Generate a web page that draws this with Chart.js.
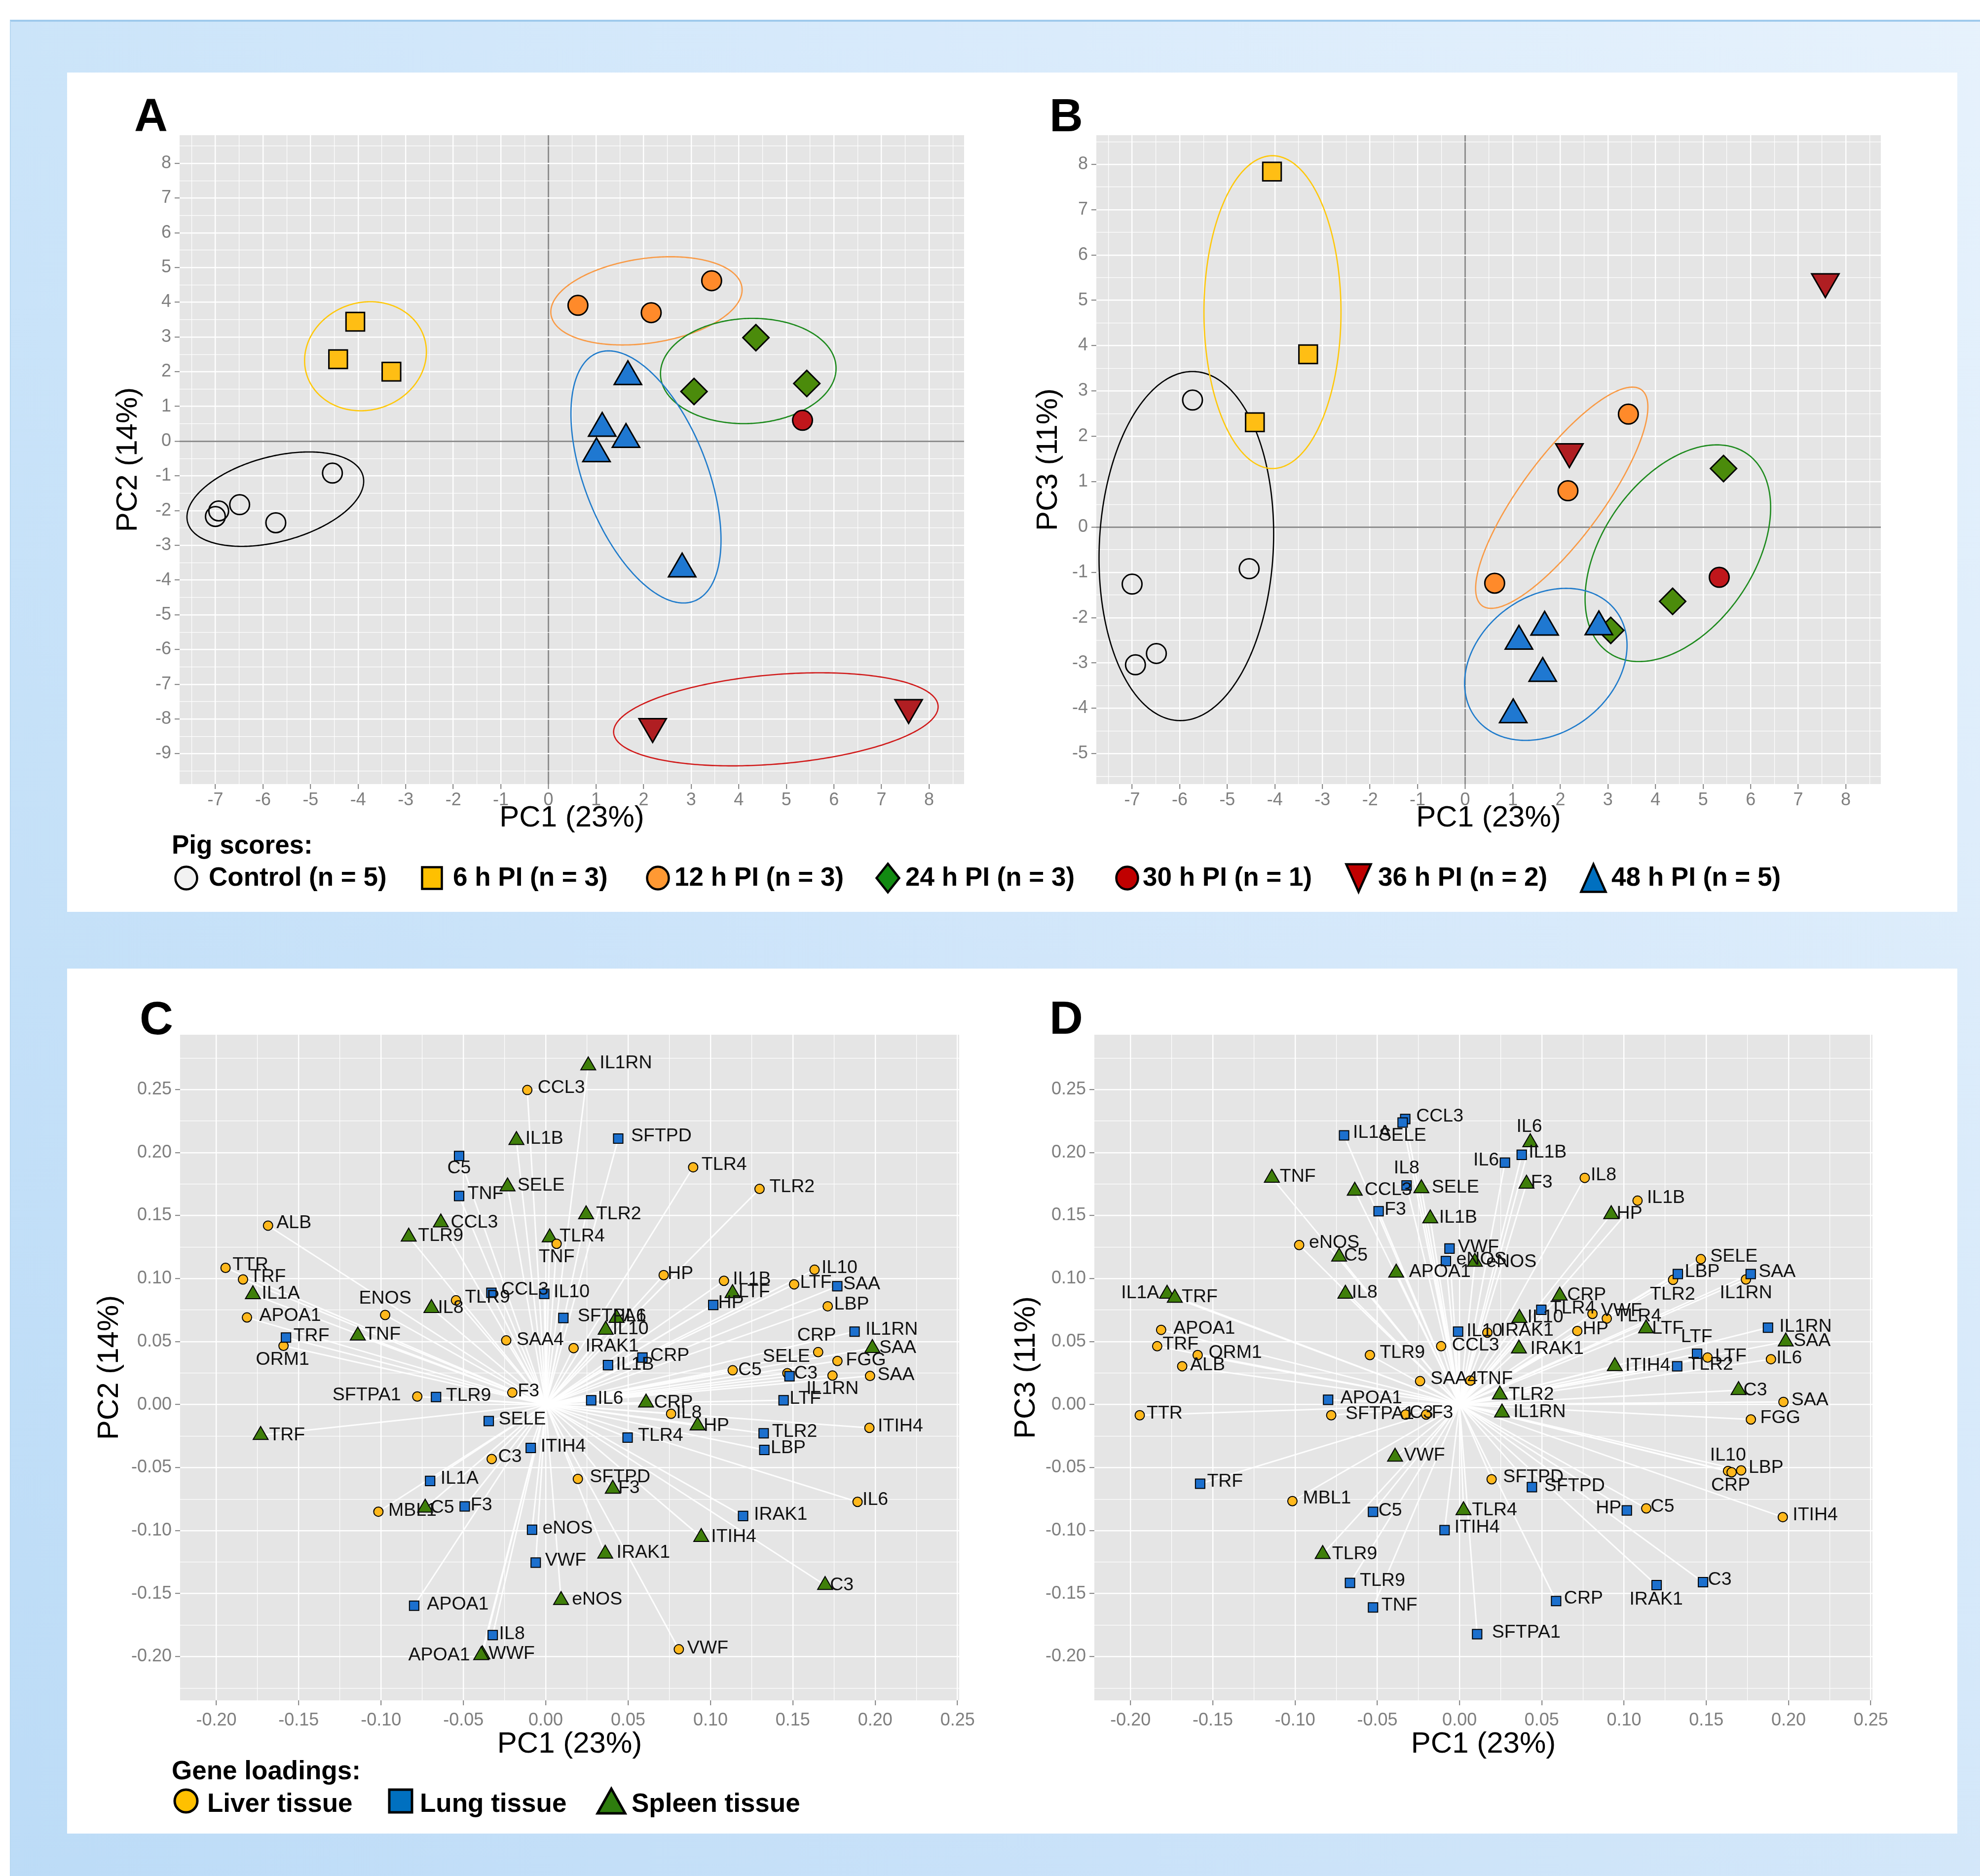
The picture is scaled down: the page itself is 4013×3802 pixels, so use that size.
<!DOCTYPE html>
<html>
<head>
<meta charset="utf-8">
<title>PCA of pig scores and gene loadings</title>
<script src="https://cdn.jsdelivr.net/npm/chart.js@4/dist/chart.umd.min.js"></script>
<style>
  html, body { margin:0; padding:0; }
  body { width:4013px; height:3802px; position:relative; overflow:hidden; background:#ffffff;
         font-family:"Liberation Sans", Arial, Helvetica, sans-serif; }
  #frame { position:absolute; left:20px; top:40px; width:4100px; height:3800px;
           background:
             linear-gradient(to bottom, rgba(255,255,255,0) 0%, rgba(110,175,235,0.16) 100%),
             linear-gradient(to right, #cbe4f9 0%, #d8eafb 45%, #e7f2fc 100%);
           border-top:4px solid #9fcaec; border-left:2px solid #b7d8f2; }
  .panel { position:absolute; left:136px; width:3831px; background:#ffffff; }
  .letter { position:absolute; font-weight:bold; font-size:94px; line-height:1; color:#000; }
  .legtitle, .legitem { position:absolute; font-weight:bold; font-size:53px; line-height:1; color:#000; white-space:nowrap; }
  svg.mk { position:absolute; overflow:visible; }
  canvas { position:absolute; }
</style>
</head>
<body>
<div id="frame"></div>
<div class="panel" style="top:147px;height:1701px"></div>
<div class="panel" style="top:1963px;height:1753px"></div>
<canvas id="cA" width="1914" height="1554" style="left:136px;top:146px;width:1914px;height:1554px"></canvas>
<canvas id="cB" width="1960" height="1554" style="left:2000px;top:146px;width:1960px;height:1554px"></canvas>
<canvas id="cC" width="1914" height="1630" style="left:136px;top:1963px;width:1914px;height:1630px"></canvas>
<canvas id="cD" width="1960" height="1630" style="left:2000px;top:1963px;width:1960px;height:1630px"></canvas>
<div class="letter" style="left:272px;top:187px">A</div>
<div class="letter" style="left:2127px;top:187px">B</div>
<div class="letter" style="left:283px;top:2017px">C</div>
<div class="letter" style="left:2127px;top:2016px">D</div>
<div class="legtitle" style="left:348px;top:1685px">Pig scores:</div>
<div class="legtitle" style="left:348px;top:3561px">Gene loadings:</div>
<script>
// ======================= DATA =======================
// ---- Pig scores (panels A and B) ----
const SCORE_GROUPS = ['Control (n = 5)', '6 h PI (n = 3)', '12 h PI (n = 3)', '24 h PI (n = 3)',
                      '30 h PI (n = 1)', '36 h PI (n = 2)', '48 h PI (n = 5)'];
const CONTROL_PC1 = [-4.54, -6.49, -5.73, -6.93, -7.00];
const CONTROL_PC2 = [-0.92, -1.83, -2.35, -2.01, -2.17];
const CONTROL_PC3 = [-0.92, -2.79, 2.80, -3.04, -1.26];
const H6_PC1  = [-4.06, -4.42, -3.30];
const H6_PC2  = [3.44, 2.36, 2.00];
const H6_PC3  = [7.84, 2.31, 3.81];
const H12_PC1 = [0.62, 2.16, 3.43];
const H12_PC2 = [3.91, 3.70, 4.62];
const H12_PC3 = [-1.24, 0.80, 2.49];
const H24_PC1 = [4.36, 3.06, 5.43];
const H24_PC2 = [2.98, 1.43, 1.66];
const H24_PC3 = [-1.64, -2.28, 1.29];
const H30_PC1 = [5.34];
const H30_PC2 = [0.60];
const H30_PC3 = [-1.11];
const H36_PC1 = [2.19, 7.57];
const H36_PC2 = [-8.22, -7.67];
const H36_PC3 = [1.66, 5.41];
const H48_PC1 = [1.67, 1.13, 1.63, 1.01, 2.81];
const H48_PC2 = [1.86, 0.37, 0.05, -0.36, -3.68];
const H48_PC3 = [-2.21, -2.52, -3.23, -4.14, -2.20];

// group ellipses: [centre PC1, centre PCy, half-width, half-height, tilt]
const ELLIPSES_PC2 = [[-5.74, -1.67, 1.857, 1.359, 0.38], [-3.845, 2.445, 1.28, 1.57, 0.08],
                      [2.06, 4.04, 2.01, 1.27, 0.25], [4.20, 2.02, 1.845, 1.515, 0.05], null,
                      [4.78, -8.01, 3.41, 1.34, 0.27], [2.05, -1.03, 1.577, 3.63, -0.50]];
const ELLIPSES_PC3 = [[-5.86, -0.42, 1.835, 3.85, 0.07], [-4.05, 4.74, 1.44, 3.45, 0.0],
                      [2.03, 0.646, 1.81, 2.44, 0.82], [4.47, -0.578, 1.95, 2.39, 0.42], null,
                      null, [1.695, -3.03, 1.707, 1.677, 0.25]];

const SCORE_X_TICKS   = [-7, -6, -5, -4, -3, -2, -1, 0, 1, 2, 3, 4, 5, 6, 7, 8];
const SCORE_PC2_TICKS = [-9, -8, -7, -6, -5, -4, -3, -2, -1, 0, 1, 2, 3, 4, 5, 6, 7, 8];
const SCORE_PC3_TICKS = [-5, -4, -3, -2, -1, 0, 1, 2, 3, 4, 5, 6, 7, 8];

// ---- Gene loadings (panels C and D) ----
const TISSUES = ['Liver tissue', 'Lung tissue', 'Spleen tissue'];
const LIVER_GENES = ['CCL3','TLR4','TLR2','ALB','TNF','TTR','TRF','IL10','HP','IL1B','LTF','TLR9','LBP','eNOS','APOA1',
                     'SAA4','ORM1','IRAK1','CRP','FGG','C5','SELE','IL1RN','SAA','F3','SFTPA1','IL8','ITIH4','C3',
                     'SFTPD','IL6','MBL1','VWF'];
const LIVER_PC1 = [-0.0112, 0.0895, 0.1298, -0.1686, 0.0066, -0.1944, -0.1838, 0.1632, 0.0716, 0.1082, 0.1508, -0.0545,
                   0.1712, -0.0975, -0.1814, -0.0240, -0.1592, 0.0169, 0.1654, 0.1771, 0.1135, 0.1467, 0.1741, 0.1969,
                   -0.0203, -0.0780, 0.0761, 0.1965, -0.0328, 0.0195, 0.1893, -0.1016, 0.0808];
const LIVER_PC2 = [0.2496, 0.1883, 0.1711, 0.1420, 0.1276, 0.1085, 0.0993, 0.1070, 0.1027, 0.0982, 0.0954, 0.0827,
                   0.0780, 0.0711, 0.0691, 0.0509, 0.0466, 0.0448, 0.0416, 0.0346, 0.0272, 0.0249, 0.0230, 0.0227,
                   0.0095, 0.0064, -0.0073, -0.0185, -0.0432, -0.0590, -0.0772, -0.0850, -0.1942];
const LIVER_PC3 = [0.0463, 0.0683, 0.0990, 0.0304, 0.0190, -0.0085, 0.0463, -0.0527, 0.0584, 0.1618, 0.0373, 0.0393,
                   -0.0522, 0.1266, 0.0593, 0.0186, 0.0393, 0.0571, -0.0537, -0.0118, -0.0824, 0.1154, 0.0993, 0.0021,
                   -0.0079, -0.0085, 0.1799, -0.0893, -0.0079, -0.0593, 0.0360, -0.0766, 0.0720];
const LUNG_GENES = ['SFTPD','C5','TNF','SAA','CCL3','IL10','HP','SFTPA1','IL1RN','TRF','CRP','IL1B','C3','IL6','LTF',
                    'TLR9','SELE','TLR2','TLR4','ITIH4','LBP','IL1A','F3','IRAK1','eNOS','VWF','APOA1','IL8'];
const LUNG_PC1 = [0.0440, -0.0526, -0.0526, 0.1770, -0.0330, -0.0009, 0.1017, 0.0107, 0.1875, -0.1577, 0.0587, 0.0378,
                  0.1480, 0.0276, 0.1444, -0.0666, -0.0346, 0.1323, 0.0497, -0.0091, 0.1327, -0.0702, -0.0492, 0.1198,
                  -0.0083, -0.0061, -0.0799, -0.0322];
const LUNG_PC2 = [0.2111, 0.1973, 0.1655, 0.0939, 0.0887, 0.0879, 0.0790, 0.0687, 0.0579, 0.0532, 0.0373, 0.0313,
                  0.0225, 0.0034, 0.0034, 0.0060, -0.0131, -0.0228, -0.0262, -0.0344, -0.0360, -0.0606, -0.0808, -0.0884,
                  -0.0993, -0.1254, -0.1596, -0.1829];
const LUNG_PC3 = [-0.0655, -0.0851, -0.1610, 0.1036, 0.2266, 0.0579, -0.0840, -0.1822, 0.0610, -0.0628, -0.1559, 0.1982,
                  -0.1409, 0.1920, 0.0403, -0.1415, 0.2238, 0.0304, 0.0752, -0.0996, 0.1036, 0.2136, 0.1534, -0.1433,
                  0.1139, 0.1238, 0.0038, 0.1739];
const SPLEEN_GENES = ['IL1RN','IL1B','SELE','TLR2','CCL3','TLR9','TLR4','LTF','IL1A','IL8','IL6','IL10','TNF','SAA',
                      'CRP','HP','TRF','F3','C5','ITIH4','IRAK1','C3','eNOS','APOA1','VWF'];
const SPLEEN_PC1 = [0.0258, -0.0178, -0.0232, 0.0245, -0.0637, -0.0832, 0.0024, 0.1134, -0.1778, -0.0694, 0.0430, 0.0364,
                    -0.1141, 0.1983, 0.0609, 0.0922, -0.1731, 0.0407, -0.0732, 0.0944, 0.0361, 0.1696, 0.0093, -0.0385,
                    -0.0392];
const SPLEEN_PC2 = [0.2690, 0.2098, 0.1730, 0.1509, 0.1444, 0.1332, 0.1326, 0.0883, 0.0874, 0.0765, 0.0687, 0.0593,
                    0.0547, 0.0448, 0.0015, -0.0167, -0.0242, -0.0669, -0.0819, -0.1052, -0.1184, -0.1433, -0.1552,
                    -0.1983, -0.1990];
const SPLEEN_PC3 = [-0.0064, 0.1476, 0.1715, 0.0079, 0.1696, -0.1187, -0.0840, 0.0603, 0.0878, 0.0878, 0.2080, 0.0687,
                    0.1799, 0.0500, 0.0864, 0.1510, 0.0846, 0.1752, 0.1173, 0.0304, 0.0444, 0.0114, 0.1132, 0.1046,
                    -0.0415];
const LOADING_TICKS = [-0.20, -0.15, -0.10, -0.05, 0.00, 0.05, 0.10, 0.15, 0.20, 0.25];

// gene names printed differently in panel C
const RENAME_C = { liver: { eNOS: 'ENOS' }, lung: {}, spleen: { VWF: 'WWF' } };

// ======================= STYLE / LAYOUT =======================
const FONT = '"Liberation Sans", Arial, Helvetica, sans-serif';
Chart.defaults.font.family = FONT;

const SCORE_STYLE = [
  { ps: 'circle',   r: 20,   fill: 'rgba(0,0,0,0)', rot: 0 },
  { ps: 'rect',     r: 26.5, fill: '#FFBE14', rot: 0 },
  { ps: 'circle',   r: 20,   fill: '#FF8A2A', rot: 0 },
  { ps: 'rectRot',  r: 26.5, fill: '#4B8B0B', rot: 0 },
  { ps: 'circle',   r: 20,   fill: '#C0161B', rot: 0 },
  { ps: 'triangle', r: 32,   fill: '#B01E22', rot: 180 },
  { ps: 'triangle', r: 32,   fill: '#1F78D1', rot: 0 }
];
const ELLIPSE_COLORS = ['#000000', '#FFC80A', '#F99A45', '#1D8A1D', null, '#D01A1A', '#1F7BCB'];

const TISSUE_STYLE = {
  liver:  { ps: 'circle',   r: 9.5,  fill: '#FFB81C', order: 1 },
  lung:   { ps: 'rect',     r: 13.5, fill: '#1C70CE', order: 0 },
  spleen: { ps: 'triangle', r: 17.5, fill: '#3F7F0A', order: 2 }
};

// label offsets (px) relative to the marker: [dx, dy, align]; default right of marker
const NUDGE_C = {
  liver: {CCL3:[21,-4], TLR4:[17,-5], TLR2:[20,-4], ALB:[17,-5], TNF:[0,27,'c'], TTR:[14,-6], TRF:[14,-5], IL10:[14,-4],
          HP:[8,-3], IL1B:[18,-3], LTF:[12,-3], TLR9:[18,-6], LBP:[13,-4], eNOS:[0,-33,'c'], APOA1:[25,-3], SAA4:[21,-1],
          ORM1:[-2,28,'c'], IRAK1:[24,-4], CRP:[-3,-34,'c'], FGG:[17,-2], C5:[11,0], SELE:[-2,-33,'c'], IL1RN:[0,27,'c'],
          SAA:[15,-2], F3:[11,-3], SFTPA1:[-33,-3,'r'], IL8:[10,-2], ITIH4:[17,-3], C3:[13,-4], SFTPD:[24,-4], IL6:[10,-4],
          MBL1:[20,-2], VWF:[17,-2]},
  lung: {SFTPD:[26,-5], C5:[0,25,'c'], TNF:[17,-4], SAA:[12,-4], CCL3:[20,-6], IL10:[19,-3], HP:[10,-4], SFTPA1:[29,-3],
         IL1RN:[22,-4], TRF:[15,-3], CRP:[16,-4], IL1B:[16,-1], C3:[9,-5], IL6:[13,-3], LTF:[12,-3], TLR9:[20,-3],
         SELE:[20,-3], TLR2:[17,-3], TLR4:[21,-4], ITIH4:[20,-3], LBP:[13,-4], IL1A:[21,-5], F3:[12,-2], IRAK1:[22,-3],
         eNOS:[21,-3], VWF:[19,-4], APOA1:[26,-3], IL8:[13,-2]},
  spleen: {IL1RN:[23,-5], IL1B:[18,-3], SELE:[20,-2], TLR2:[20,-1], CCL3:[20,0], TLR9:[19,-2], TLR4:[20,-2], LTF:[12,-2],
           IL1A:[18,-2], IL8:[13,-1], IL6:[8,-3], IL10:[14,-1], TNF:[14,-2], SAA:[14,-1], CRP:[16,0], HP:[12,0],
           TRF:[17,0], F3:[11,-2], C5:[11,0], ITIH4:[20,-1], IRAK1:[23,-2], C3:[10,0], eNOS:[22,-1], APOA1:[-25,2,'r'],
           VWF:[15,-3]}
};
const NUDGE_D = {
  liver: {IL8:[12,-5], IL1B:[19,-6], eNOS:[20,-5], SELE:[19,-5], TLR2:[-1,30,'c'], IL1RN:[0,28,'c'], VWF:[17,-6],
          TLR4:[19,-4], APOA1:[25,-2], HP:[11,-4], IRAK1:[26,-4], TRF:[11,-4], CCL3:[22,-2], ORM1:[22,-5], TLR9:[20,-5],
          LTF:[15,-3], IL6:[11,-2], ALB:[16,-2], SAA4:[21,-4], TNF:[13,-3], SAA:[16,-4], TTR:[14,-4], SFTPA1:[29,-3],
          C3:[8,-3], F3:[11,-3], FGG:[19,-3], IL10:[0,-32,'c'], CRP:[-2,27,'c'], LBP:[15,-5], SFTPD:[23,-4],
          MBL1:[21,-6], C5:[9,-3], ITIH4:[20,-4]},
  lung: {CCL3:[22,-5], SELE:[0,27,'c'], IL1A:[18,-5], IL1B:[14,-5], IL6:[-12,-5,'r'], IL8:[0,-35,'c'], F3:[12,-3],
         VWF:[17,-3], eNOS:[21,-3], LBP:[14,-4], SAA:[16,-4], TLR4:[18,-3], IL1RN:[23,-2], IL10:[17,-1], LTF:[-1,-34,'c'],
         TLR2:[22,-3], APOA1:[25,-3], TRF:[14,-4], C5:[11,-2], HP:[-11,-4,'r'], ITIH4:[20,-5], TLR9:[20,-4], C3:[10,-5],
         IRAK1:[-1,29,'c'], CRP:[16,-5], TNF:[17,-4], SFTPA1:[30,-3], SFTPD:[25,-2]},
  spleen: {IL6:[-2,-32,'c'], TNF:[16,-2], F3:[9,-2], SELE:[21,-2], CCL3:[20,-2], HP:[11,-1], IL1B:[18,-2], C5:[10,-2],
           eNOS:[23,0], APOA1:[26,-2], IL1A:[-16,-2,'r'], IL8:[13,-3], TRF:[14,-2], CRP:[15,-1], IL10:[16,-1],
           LTF:[12,0], SAA:[16,-1], IRAK1:[23,0], ITIH4:[21,-1], C3:[10,0], TLR2:[18,0], IL1RN:[23,-1], VWF:[18,-3],
           TLR4:[17,0], TLR9:[19,0]}
};

// ======================= PLUGINS =======================
const panelBg = {
  id: 'panelBg',
  beforeDraw(chart) {
    const { ctx, chartArea: a } = chart;
    ctx.save(); ctx.fillStyle = '#E5E5E5';
    ctx.fillRect(a.left, a.top, a.right - a.left, a.bottom - a.top); ctx.restore();
  }
};
const ellipsePlugin = {
  id: 'ellipses',
  beforeDatasetsDraw(chart, args, o) {
    if (!o || !o.items) return;
    const { ctx, scales: { x, y } } = chart;
    ctx.save(); ctx.lineWidth = 2.6;
    o.items.forEach((e, i) => {
      if (!e) return;
      const [cx, cy, W, H, r] = e; const q = Math.sqrt(1 - r * r);
      ctx.beginPath();
      for (let k = 0; k <= 360; k++) {
        const t = k * Math.PI / 180;
        const px = x.getPixelForValue(cx + W * Math.cos(t));
        const py = y.getPixelForValue(cy + H * (r * Math.cos(t) + q * Math.sin(t)));
        if (k === 0) ctx.moveTo(px, py); else ctx.lineTo(px, py);
      }
      ctx.closePath(); ctx.strokeStyle = o.colors[i]; ctx.stroke();
    });
    ctx.restore();
  }
};
const rayPlugin = {
  id: 'rays',
  beforeDatasetsDraw(chart, args, o) {
    if (!o || !o.enabled) return;
    const { ctx, scales: { x, y } } = chart;
    const ox = x.getPixelForValue(0), oy = y.getPixelForValue(0);
    ctx.save(); ctx.strokeStyle = 'rgba(255,255,255,0.92)'; ctx.lineWidth = 3;
    chart.data.datasets.forEach(ds => ds.data.forEach(p => {
      ctx.beginPath(); ctx.moveTo(ox, oy);
      ctx.lineTo(x.getPixelForValue(p.x), y.getPixelForValue(p.y)); ctx.stroke();
    }));
    ctx.restore();
  }
};
const labelPlugin = {
  id: 'geneLabels',
  afterDatasetsDraw(chart, args, o) {
    if (!o || !o.nudge) return;
    const { ctx, scales: { x, y } } = chart;
    ctx.save(); ctx.font = '37.5px ' + FONT; ctx.fillStyle = '#111111'; ctx.textBaseline = 'middle';
    chart.data.datasets.forEach(ds => ds.data.forEach(p => {
      const n = (o.nudge[ds.tissue] || {})[p.gene] || [16, -3];
      ctx.textAlign = n[2] === 'c' ? 'center' : (n[2] === 'r' ? 'right' : 'left');
      ctx.fillText(p.label, x.getPixelForValue(p.x) + n[0], y.getPixelForValue(p.y) + n[1]);
    }));
    ctx.restore();
  }
};

// ======================= AXES =======================
function gridTicks(majors, min, max) {
  const s = majors[1] - majors[0];
  const out = majors.map(v => ({ value: v, mj: true }));
  for (let i = 0; i < majors.length - 1; i++) out.push({ value: (majors[i] + majors[i + 1]) / 2, mj: false });
  if (majors[0] - s / 2 >= min) out.push({ value: majors[0] - s / 2, mj: false });
  const last = majors[majors.length - 1] + s / 2;
  if (last <= max) out.push({ value: last, mj: false });
  return out.sort((a, b) => a.value - b.value);
}
function axis(o) {
  const list = gridTicks(o.majors, o.min, o.max);
  const isZero = t => o.zero && t && t.mj && Math.abs(t.value) < 1e-9;
  return {
    type: 'linear', position: o.pos, min: o.min, max: o.max,
    afterBuildTicks: s => { s.ticks = list.map(t => ({ value: t.value, mj: t.mj })); },
    afterFit: s => { if (o.pos === 'left') s.width = o.size; else s.height = o.size; },
    ticks: { autoSkip: false, maxRotation: 0, minRotation: 0, padding: o.tickPad, color: '#7F7F7F',
             font: { family: FONT, size: 36 },
             callback: (v, i, arr) => (arr[i] && arr[i].mj) ? o.fmt(v) : '' },
    grid: { drawTicks: true, tickLength: 10, tickWidth: 2,
            color: c => isZero(c.tick) ? '#8E8E8E' : '#FFFFFF',
            lineWidth: c => !c.tick ? 0 : (isZero(c.tick) ? 3 : (c.tick.mj ? 2.4 : 1.2)),
            tickColor: c => (c.tick && c.tick.mj) ? '#7F7F7F' : 'rgba(0,0,0,0)' },
    border: { display: false },
    title: { display: true, text: o.title, color: '#000000', font: { family: FONT, size: 60 },
             padding: o.pos === 'left' ? { top: o.titlePad, bottom: 0 } : { top: 0, bottom: o.titlePad } }
  };
}
const fmtInt = v => String(Math.round(v));
const fmt2 = v => (Math.abs(v) < 1e-9 ? 0 : v).toFixed(2);

// ======================= CHARTS =======================
const GROUP_PC1 = [CONTROL_PC1, H6_PC1, H12_PC1, H24_PC1, H30_PC1, H36_PC1, H48_PC1];
const GROUP_PC2 = [CONTROL_PC2, H6_PC2, H12_PC2, H24_PC2, H30_PC2, H36_PC2, H48_PC2];
const GROUP_PC3 = [CONTROL_PC3, H6_PC3, H12_PC3, H24_PC3, H30_PC3, H36_PC3, H48_PC3];

function scoreChart(id, yVals, yTicks, yMin, yMax, yTitle, ellipses, L) {
  const datasets = SCORE_GROUPS.map((name, i) => ({
    label: name,
    data: GROUP_PC1[i].map((v, j) => ({ x: v, y: yVals[i][j] })),
    pointStyle: SCORE_STYLE[i].ps, pointRadius: SCORE_STYLE[i].r, pointRotation: SCORE_STYLE[i].rot,
    pointBackgroundColor: SCORE_STYLE[i].fill, pointBorderColor: '#000000', pointBorderWidth: 3,
    order: 10 - i
  }));
  return new Chart(document.getElementById(id), {
    type: 'scatter',
    data: { datasets },
    plugins: [panelBg, ellipsePlugin],
    options: {
      responsive: false, animation: false, devicePixelRatio: 1, events: [],
      layout: { padding: L.padding },
      plugins: { legend: { display: false }, tooltip: { enabled: false },
                 ellipses: { items: ellipses, colors: ELLIPSE_COLORS } },
      scales: {
        x: axis({ pos: 'bottom', majors: SCORE_X_TICKS, min: -7.752, max: 8.736, size: L.xH, tickPad: L.xTickPad,
                  fmt: fmtInt, title: 'PC1 (23%)', titlePad: L.xTitlePad, zero: true }),
        y: axis({ pos: 'left', majors: yTicks, min: yMin, max: yMax, size: L.yW, tickPad: 7,
                  fmt: fmtInt, title: yTitle, titlePad: L.yTitlePad, zero: true })
      }
    }
  });
}

function geneChart(id, yKey, yTitle, nudge, rename, L) {
  const T = [
    { key: 'liver',  genes: LIVER_GENES,  pc1: LIVER_PC1,  pc2: LIVER_PC2,  pc3: LIVER_PC3 },
    { key: 'lung',   genes: LUNG_GENES,   pc1: LUNG_PC1,   pc2: LUNG_PC2,   pc3: LUNG_PC3 },
    { key: 'spleen', genes: SPLEEN_GENES, pc1: SPLEEN_PC1, pc2: SPLEEN_PC2, pc3: SPLEEN_PC3 }
  ];
  const datasets = T.map((t, i) => {
    const st = TISSUE_STYLE[t.key];
    return {
      label: TISSUES[i], tissue: t.key,
      data: t.genes.map((g, j) => ({ x: t.pc1[j], y: t[yKey][j], gene: g,
                                     label: (rename[t.key] && rename[t.key][g]) || g })),
      pointStyle: st.ps, pointRadius: st.r, pointBackgroundColor: st.fill,
      pointBorderColor: '#000000', pointBorderWidth: 2, order: st.order
    };
  });
  return new Chart(document.getElementById(id), {
    type: 'scatter',
    data: { datasets },
    plugins: [panelBg, rayPlugin, labelPlugin],
    options: {
      responsive: false, animation: false, devicePixelRatio: 1, events: [],
      layout: { padding: L.padding },
      plugins: { legend: { display: false }, tooltip: { enabled: false },
                 rays: { enabled: true }, geneLabels: { nudge } },
      scales: {
        x: axis({ pos: 'bottom', majors: LOADING_TICKS, min: -0.222, max: 0.251, size: L.xH, tickPad: L.xTickPad,
                  fmt: fmt2, title: 'PC1 (23%)', titlePad: L.xTitlePad, zero: false }),
        y: axis({ pos: 'left', majors: LOADING_TICKS, min: -0.2347, max: 0.2935, size: L.yW, tickPad: 7,
                  fmt: fmt2, title: yTitle, titlePad: L.yTitlePad, zero: false })
      }
    }
  });
}

scoreChart('cA', GROUP_PC2, SCORE_PC2_TICKS, -9.874, 8.81, 'PC2 (14%)', ELLIPSES_PC2,
  { padding: { left: 0, top: 128, right: 96, bottom: 0 }, yW: 228, xH: 111, xTickPad: 1, xTitlePad: 6, yTitlePad: 88 });
scoreChart('cB', GROUP_PC3, SCORE_PC3_TICKS, -5.67, 8.643, 'PC3 (11%)', ELLIPSES_PC3,
  { padding: { left: 0, top: 128, right: 148, bottom: 0 }, yW: 222, xH: 111, xTickPad: 1, xTitlePad: 6, yTitlePad: 89.6 });
geneChart('cC', 'pc2', 'PC2 (14%)', NUDGE_C, RENAME_C,
  { padding: { left: 0, top: 134, right: 106, bottom: 0 }, yW: 229, xH: 147, xTickPad: 9, xTitlePad: 22, yTitlePad: 50 });
geneChart('cD', 'pc3', 'PC3 (11%)', NUDGE_D, { liver: {}, lung: {}, spleen: {} },
  { padding: { left: 0, top: 134, right: 165, bottom: 0 }, yW: 218, xH: 147, xTickPad: 9, xTitlePad: 22, yTitlePad: 44 });

// ======================= LEGENDS (HTML) =======================
const NS = 'http://www.w3.org/2000/svg';
function marker(shape, cx, cy, w, h, fill, sw) {
  const pad = sw + 2, W = w + 2 * pad, H = h + 2 * pad;
  const svg = document.createElementNS(NS, 'svg');
  svg.setAttribute('width', W); svg.setAttribute('height', H); svg.setAttribute('class', 'mk');
  svg.style.left = (cx - W / 2) + 'px'; svg.style.top = (cy - H / 2) + 'px';
  const x0 = pad, y0 = pad, mx = W / 2, my = H / 2;
  let el;
  if (shape === 'circle') {
    el = document.createElementNS(NS, 'ellipse');
    el.setAttribute('cx', mx); el.setAttribute('cy', my); el.setAttribute('rx', w / 2); el.setAttribute('ry', h / 2);
  } else if (shape === 'square') {
    el = document.createElementNS(NS, 'rect');
    el.setAttribute('x', x0); el.setAttribute('y', y0); el.setAttribute('width', w); el.setAttribute('height', h);
  } else {
    el = document.createElementNS(NS, 'polygon');
    let pts;
    if (shape === 'diamond') pts = [[mx, y0], [x0 + w, my], [mx, y0 + h], [x0, my]];
    else if (shape === 'triUp') pts = [[mx, y0], [x0 + w, y0 + h], [x0, y0 + h]];
    else pts = [[x0, y0], [x0 + w, y0], [mx, y0 + h]];
    el.setAttribute('points', pts.map(p => p.join(',')).join(' '));
  }
  el.setAttribute('fill', fill); el.setAttribute('stroke', '#000'); el.setAttribute('stroke-width', sw);
  svg.appendChild(el); document.body.appendChild(svg);
}
function legendText(text, left, top) {
  const d = document.createElement('div'); d.className = 'legitem'; d.textContent = text;
  d.style.left = left + 'px'; d.style.top = top + 'px'; document.body.appendChild(d);
}
const PIG_LEGEND_MARK = [['circle', 44, 46, '#F2F2F2'], ['square', 40, 44, '#FFC000'], ['circle', 44, 46, '#FF9933'],
                         ['diamond', 46, 58, '#128A12'], ['circle', 44, 46, '#C00000'], ['triDown', 50, 56, '#C00000'],
                         ['triUp', 50, 56, '#0070C0']];
const PIG_LEGEND_X = [[377, 423], [875, 918], [1333, 1367], [1799, 1835], [2284, 2316], [2753, 2793], [3229, 3266]];
SCORE_GROUPS.forEach((name, i) => {
  const m = PIG_LEGEND_MARK[i];
  marker(m[0], PIG_LEGEND_X[i][0], 1779, m[1], m[2], m[3], 4.5);
  legendText(name, PIG_LEGEND_X[i][1], 1750);
});
const GENE_LEGEND_MARK = [['circle', 46, 46, '#FFC000'], ['square', 46, 46, '#0070C0'], ['triUp', 56, 50, '#2E7D0E']];
const GENE_LEGEND_X = [[377, 420], [812, 851], [1239, 1280]];
TISSUES.forEach((name, i) => {
  const m = GENE_LEGEND_MARK[i];
  marker(m[0], GENE_LEGEND_X[i][0], 3650, m[1], m[2], m[3], 5);
  legendText(name, GENE_LEGEND_X[i][1], 3627);
});
</script>
</body>
</html>
